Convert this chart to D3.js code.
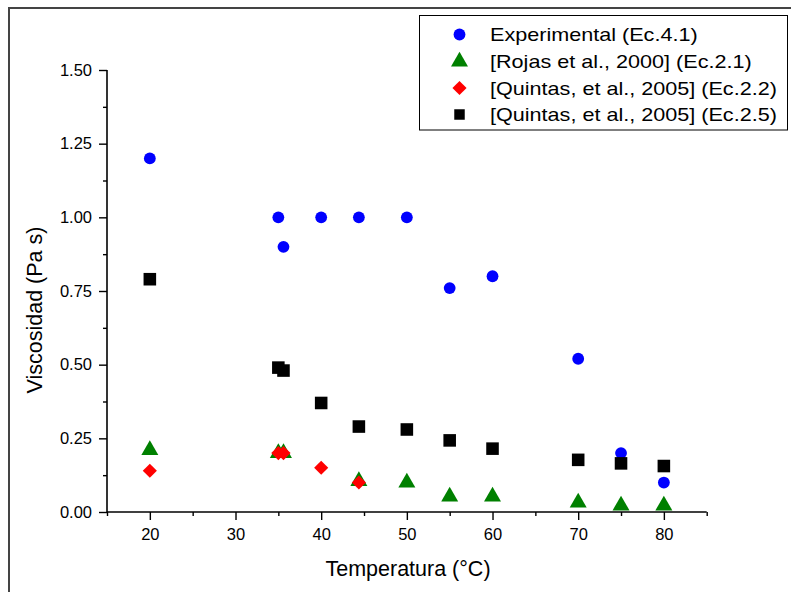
<meta charset="utf-8">
<html>
<head>
<style>
  body { margin: 0; background: #fff; }
  text { font-family: "Liberation Sans", Arial, sans-serif; }
</style>
</head>
<body>
<div id="chart"></div>
<script src="https://d3js.org/d3.v7.min.js"></script>
<script>
// data
var temps    = [20, 35, 35.6, 40, 44.4, 50, 55, 60, 70, 75, 80];
var expVals  = [1.20, 1.00, 0.90, 1.00, 1.00, 1.00, 0.76, 0.80, 0.52, 0.20, 0.10];
var rojasT   = [20, 35, 35.6, 44.4, 50, 55, 60, 70, 75, 80];
var rojasV   = [0.21, 0.20, 0.20, 0.105, 0.10, 0.052, 0.052, 0.032, 0.022, 0.022];
var quin22T  = [20, 35, 35.6, 40, 44.4];
var quin22V  = [0.14, 0.20, 0.20, 0.15, 0.10];
var quin25V  = [0.79, 0.49, 0.48, 0.37, 0.29, 0.28, 0.243, 0.215, 0.177, 0.165, 0.156];
var legendLabels = ["Experimental (Ec.4.1)", "[Rojas et al., 2000] (Ec.2.1)",
                    "[Quintas, et al., 2005] (Ec.2.2)", "[Quintas, et al., 2005] (Ec.2.5)"];
var xMajor = [20, 30, 40, 50, 60, 70, 80];
var xMinor = [15, 25, 35, 45, 55, 65, 75, 85];
var yMajor = [0, 0.25, 0.5, 0.75, 1.0, 1.25, 1.5];
var yMinor = [0.125, 0.375, 0.625, 0.875, 1.125, 1.375];

var W = 791, H = 592;
var svg = d3.select("#chart").append("svg")
    .attr("width", W).attr("height", H);

// outer frame (cropped at right/bottom)
svg.append("path")
    .attr("d", "M9,592 L9,8 L791,8")
    .attr("fill", "none").attr("stroke", "#444").attr("stroke-width", 2);

var x = d3.scaleLinear().domain([15, 85]).range([107, 706.7]);
var y = d3.scaleLinear().domain([0, 1.5]).range([512, 70]);

// axes
var gx = svg.append("g").attr("transform", "translate(0,512)");
gx.call(d3.axisBottom(x).tickValues(xMajor).tickSize(8).tickFormat(d3.format("d")));
var gxm = svg.append("g").attr("transform", "translate(0,512)");
gxm.call(d3.axisBottom(x).tickValues(xMinor).tickSize(4).tickFormat(""));

var gy = svg.append("g").attr("transform", "translate(107,0)");
gy.call(d3.axisLeft(y).tickValues(yMajor).tickSize(8).tickFormat(d3.format(".2f")));
var gym = svg.append("g").attr("transform", "translate(107,0)");
gym.call(d3.axisLeft(y).tickValues(yMinor).tickSize(4).tickFormat(""));

svg.selectAll(".domain").attr("stroke", "#000").attr("stroke-width", 1.6);
svg.selectAll(".tick line").attr("stroke", "#000").attr("stroke-width", 1.4);
gx.selectAll(".domain").attr("d", "M107,0H706.7");
gxm.selectAll(".domain").remove();
gym.selectAll(".domain").remove();
gy.selectAll(".domain").attr("d", "M0,70V512");

gx.selectAll(".tick text").attr("font-size", 16.5).attr("fill", "#000")
    .attr("font-family", "Liberation Sans").attr("dy", "1.05em");
gy.selectAll(".tick text").attr("font-size", 16.5).attr("fill", "#000")
    .attr("font-family", "Liberation Sans").attr("x", -15);

// axis titles
svg.append("text")
    .attr("x", 408).attr("y", 576)
    .attr("text-anchor", "middle").attr("font-size", 21.5)
    .text("Temperatura (°C)");
svg.append("text")
    .attr("transform", "translate(42,310) rotate(-90)")
    .attr("text-anchor", "middle").attr("font-size", 21.5)
    .text("Viscosidad (Pa s)");

// symbols
var sym = {
  circle:   d3.symbol().type(d3.symbolCircle).size(Math.PI * 5.9 * 5.9),
  triangle: d3.symbol().type(d3.symbolTriangle).size(125),
  diamond:  d3.symbol().type(d3.symbolSquare).size(100),
  square:   d3.symbol().type(d3.symbolSquare).size(158)
};

var plot = svg.append("g");

function drawSeries(xs, vs, shape, color, rot) {
  plot.selectAll(null)
    .data(vs.map(function(v, i) { return [xs[i], v]; }))
    .enter().append("path")
      .attr("d", sym[shape]())
      .attr("fill", color)
      .attr("transform", function(d) {
        return "translate(" + x(d[0]) + "," + y(d[1]) + ")" + (rot ? " rotate(45)" : "");
      });
}

drawSeries(temps, expVals, "circle", "#0000ff");
drawSeries(temps, quin25V, "square", "#000000");
drawSeries(rojasT, rojasV, "triangle", "#008000");
drawSeries(quin22T, quin22V, "diamond", "#ff0000", true);

// legend
var lg = svg.append("g");
lg.append("rect")
    .attr("x", 419.5).attr("y", 15.5).attr("width", 368).attr("height", 114.5)
    .attr("fill", "#fff").attr("stroke", "#000").attr("stroke-width", 1);

var legShapes = [["circle", "#0000ff", false], ["triangle", "#008000", false],
                 ["diamond", "#ff0000", true], ["square", "#000000", false]];
var rowY = [34.5, 61.5, 88, 114.5];
legendLabels.forEach(function(lbl, i) {
  var s = legShapes[i];
  lg.append("path")
    .attr("d", (s[0] === "square" ? d3.symbol().type(d3.symbolSquare).size(110) : sym[s[0]])())
    .attr("fill", s[1])
    .attr("transform", "translate(459.5," + rowY[i] + ")" + (s[2] ? " rotate(45)" : ""));
  lg.append("text")
    .attr("transform", "translate(490," + (rowY[i] + 6.5) + ") scale(1.2,1)")
    .attr("font-size", 18)
    .text(lbl);
});
</script>
</body>
</html>
